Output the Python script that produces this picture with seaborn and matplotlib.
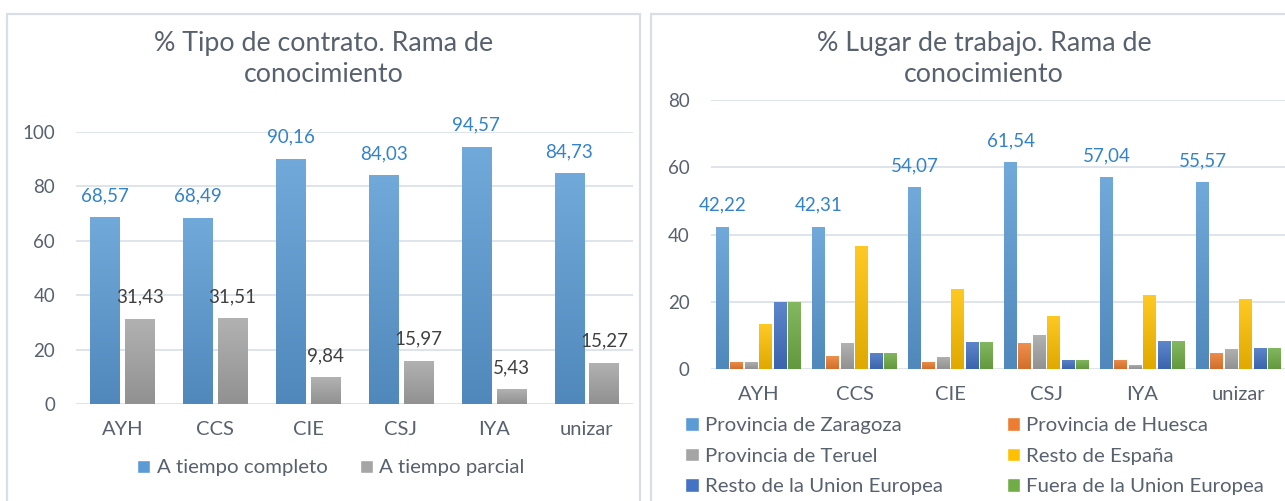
import numpy as np
import pandas as pd
import matplotlib
matplotlib.use("Agg")
import matplotlib.pyplot as plt
from matplotlib.colors import LinearSegmentedColormap, to_rgb
from matplotlib.patches import Rectangle, Patch
import seaborn as sns

# --- data -------------------------------------------------------------
ramas = ["AYH", "CCS", "CIE", "CSJ", "IYA", "unizar"]

contrato_series = ["A tiempo completo", "A tiempo parcial"]
tiempo_completo = [68.57, 68.49, 90.16, 84.03, 94.57, 84.73]
tiempo_parcial = [31.43, 31.51, 9.84, 15.97, 5.43, 15.27]

lugar_series = ["Provincia de Zaragoza", "Provincia de Huesca", "Provincia de Teruel",
                "Resto de España", "Resto de la Union Europea", "Fuera de la Union Europea"]
zaragoza = [42.22, 42.31, 54.07, 61.54, 57.04, 55.57]
huesca = [2.22, 3.85, 2.22, 7.69, 2.70, 4.76]
teruel = [2.22, 7.69, 3.70, 10.00, 1.30, 5.95]
resto_espana = [13.33, 36.54, 23.70, 15.80, 21.90, 20.80]
resto_ue = [20.00, 4.81, 8.15, 2.70, 8.30, 6.25]
fuera_ue = [20.00, 4.81, 8.15, 2.70, 8.30, 6.25]

# --- style ------------------------------------------------------------
TEXT = "#58616E"
GRID = "#DCE1E8"
BORDER = "#D9DEE5"
contrato_colors = ["#5B9BD5", "#A5A5A5"]
lugar_colors = ["#5B9BD5", "#ED7D31", "#A5A5A5", "#FFC000", "#4472C4", "#70AD47"]

sns.set_theme(style="white")
plt.rcParams["font.family"] = ["Lato", "DejaVu Sans"]
plt.rcParams["text.color"] = TEXT


def to_long(series_names, columns):
    rows = []
    for name, vals in zip(series_names, columns):
        for rama, v in zip(ramas, vals):
            rows.append({"rama": rama, "serie": name, "pct": v})
    return pd.DataFrame(rows)


def shade(color, amount):
    c = np.array(to_rgb(color))
    if amount > 0:
        return c + (1 - c) * amount
    return c * (1 + amount)


def gradient_bars(ax, colors):
    # Excel-like vertical gradient: lighter on top, darker at the base
    grad = np.linspace(0, 1, 64).reshape(-1, 1)
    for container, color in zip(ax.containers, colors):
        cmap = LinearSegmentedColormap.from_list("g", [shade(color, -0.12), shade(color, 0.14)])
        for bar in container:
            x, y = bar.get_xy()
            w, h = bar.get_width(), bar.get_height()
            bar.set_facecolor("none")
            bar.set_edgecolor("none")
            im = ax.imshow(grad, cmap=cmap, origin="lower", extent=[x, x + w, y, y + h],
                           aspect="auto", zorder=2, interpolation="bilinear")
            im.set_clip_path(bar)


def style_axes(ax, ymax):
    ax.set_xlim(-0.5, len(ramas) - 0.5)
    ax.set_ylim(0, ymax)
    ax.set_yticks(np.arange(0, ymax + 1, 20))
    ax.set_axisbelow(True)
    ax.grid(axis="y", color=GRID, lw=1.3)
    ax.grid(axis="x", visible=False)
    sns.despine(ax=ax, left=True, bottom=True)
    ax.tick_params(axis="y", length=0, pad=15, labelsize=13.5, labelcolor=TEXT)
    ax.tick_params(axis="x", length=0, pad=12, labelsize=14.5, labelcolor=TEXT)
    ax.set_xlabel("")
    ax.set_ylabel("")


def fmt(vals):
    return [f"{v:.2f}".replace(".", ",") for v in vals]


fig = plt.figure(figsize=(12.85, 5.01), dpi=100)
W, H = 1285, 501

# panel frames
fig.add_artist(Rectangle((7 / W, -0.1), (640 - 7) / W, 1.1 - 14 / H, transform=fig.transFigure,
                         fill=False, edgecolor=BORDER, lw=1.6))
fig.add_artist(Rectangle((651 / W, -0.1), 0.6, 1.1 - 14 / H, transform=fig.transFigure,
                         fill=False, edgecolor=BORDER, lw=1.6))

# --- left: tipo de contrato -------------------------------------------
ax1 = fig.add_axes([76 / W, (H - 404.3) / H, 557 / W, 272.6 / H])
df1 = to_long(contrato_series, [tiempo_completo, tiempo_parcial])
sns.barplot(data=df1, x="rama", y="pct", hue="serie", palette=contrato_colors,
            saturation=1, width=0.75, gap=0.16, legend=False, ax=ax1)
ax1.bar_label(ax1.containers[0], labels=fmt(tiempo_completo), padding=9.5,
              fontsize=13.5, color="#3383C8")
ax1.bar_label(ax1.containers[1], labels=fmt(tiempo_parcial), padding=9.5,
              fontsize=13.5, color="#404040")
gradient_bars(ax1, contrato_colors)
style_axes(ax1, 100)

fig.text(324 / W, 1 - 58.5 / H, "% Tipo de contrato. Rama de\nconocimiento",
         ha="center", va="center", fontsize=19.3, color=TEXT, linespacing=1.3)
fig.legend(handles=[Patch(facecolor=c) for c in contrato_colors], labels=contrato_series,
           loc="center", bbox_to_anchor=(331 / W, 1 - 468 / H), ncol=2, frameon=False,
           fontsize=14.7, handlelength=0.65, handleheight=0.65, handletextpad=0.3,
           columnspacing=1.6, labelcolor=TEXT)

# --- right: lugar de trabajo ------------------------------------------
ax2 = fig.add_axes([710.5 / W, (H - 369) / H, 576 / W, 269 / H])
df2 = to_long(lugar_series, [zaragoza, huesca, teruel, resto_espana, resto_ue, fuera_ue])
sns.barplot(data=df2, x="rama", y="pct", hue="serie", palette=lugar_colors,
            saturation=1, width=0.9, gap=0.1, legend=False, ax=ax2)
ax2.bar_label(ax2.containers[0], labels=fmt(zaragoza), padding=9.5,
              fontsize=13.5, color="#3383C8")
gradient_bars(ax2, lugar_colors)
style_axes(ax2, 80)

fig.text(984 / W, 1 - 58.5 / H, "% Lugar de trabajo. Rama de\nconocimiento",
         ha="center", va="center", fontsize=19.3, color=TEXT, linespacing=1.3)
# legend filled row by row, like the original
order = [0, 2, 4, 1, 3, 5]
fig.legend(handles=[Patch(facecolor=lugar_colors[i]) for i in order],
           labels=[lugar_series[i] for i in order],
           loc="upper left", bbox_to_anchor=(667 / W, 1 - 399 / H), ncol=2, frameon=False,
           fontsize=14.7, handlelength=0.65, handleheight=0.65, handletextpad=0.3,
           columnspacing=3.15, labelspacing=0.65, labelcolor=TEXT)

fig.savefig("out.png", dpi=100)
